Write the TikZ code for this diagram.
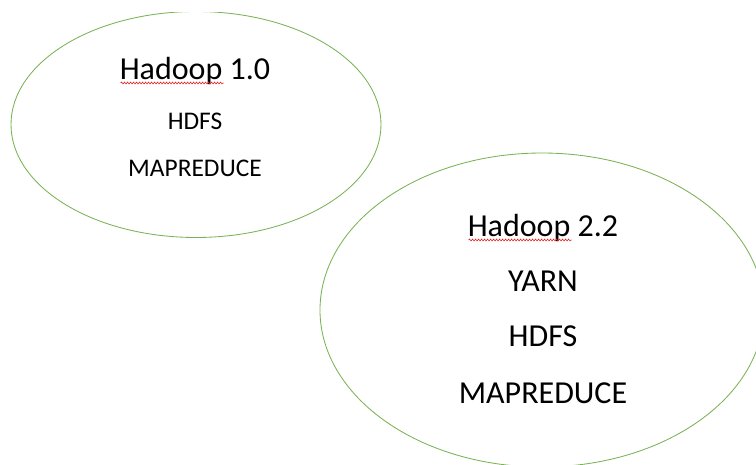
\documentclass[tikz,border=0pt]{standalone}
\usepackage{fontspec}
\setmainfont{Carlito}
\usetikzlibrary{decorations.pathmorphing}
\definecolor{EllipseClr}{RGB}{122,178,86}
\definecolor{SpellClr}{RGB}{225,35,35}

\begin{document}
\begin{tikzpicture}[x=1pt,y=-1pt,
  bubble/.style={draw=EllipseClr,line width=.85pt},
  bigtxt/.style={font=\fontsize{32}{38}\selectfont,inner sep=0pt,anchor=base},
  smalltxt/.style={font=\fontsize{25.4}{30}\selectfont,inner sep=0pt,anchor=base},
  spell/.style={draw=SpellClr,line width=.6pt,decorate,
    decoration={snake,segment length=3pt,amplitude=.9pt}}]
\useasboundingbox (0,0) rectangle (756,465);

\coordinate (O1) at (196,124.5);
\coordinate (O2) at (542,310);

% the two ellipses
\begin{scope}
\clip (0,13) rectangle (756,465);
\draw[bubble] (O1) ellipse [x radius=185pt, y radius=113pt];
\draw[bubble] (O2) ellipse [x radius=222pt, y radius=157pt];
\end{scope}

% Hadoop 1.0
\node[bigtxt] (h1) at (195,80) {Hadoop 1.0};
\node[smalltxt] (hdfs1) at (195,130) {HDFS};
\node[smalltxt] (mr1) at (195,177) {MAPREDUCE};

% Hadoop 2.2
\node[bigtxt] (h2) at (543,237) {Hadoop 2.2};
\node[bigtxt] (yarn2) at (543,292) {YARN};
\node[bigtxt] (hdfs2) at (543,347) {HDFS};
\node[bigtxt] (mr2) at (543,403) {MAPREDUCE};

% spell check marks
\draw[spell] ([xshift=1pt,yshift=-3pt]h1.base west) -- ++(103,0);
\draw[spell] ([xshift=1pt,yshift=-3pt]h2.base west) -- ++(103,0);

\end{tikzpicture}
\end{document}
